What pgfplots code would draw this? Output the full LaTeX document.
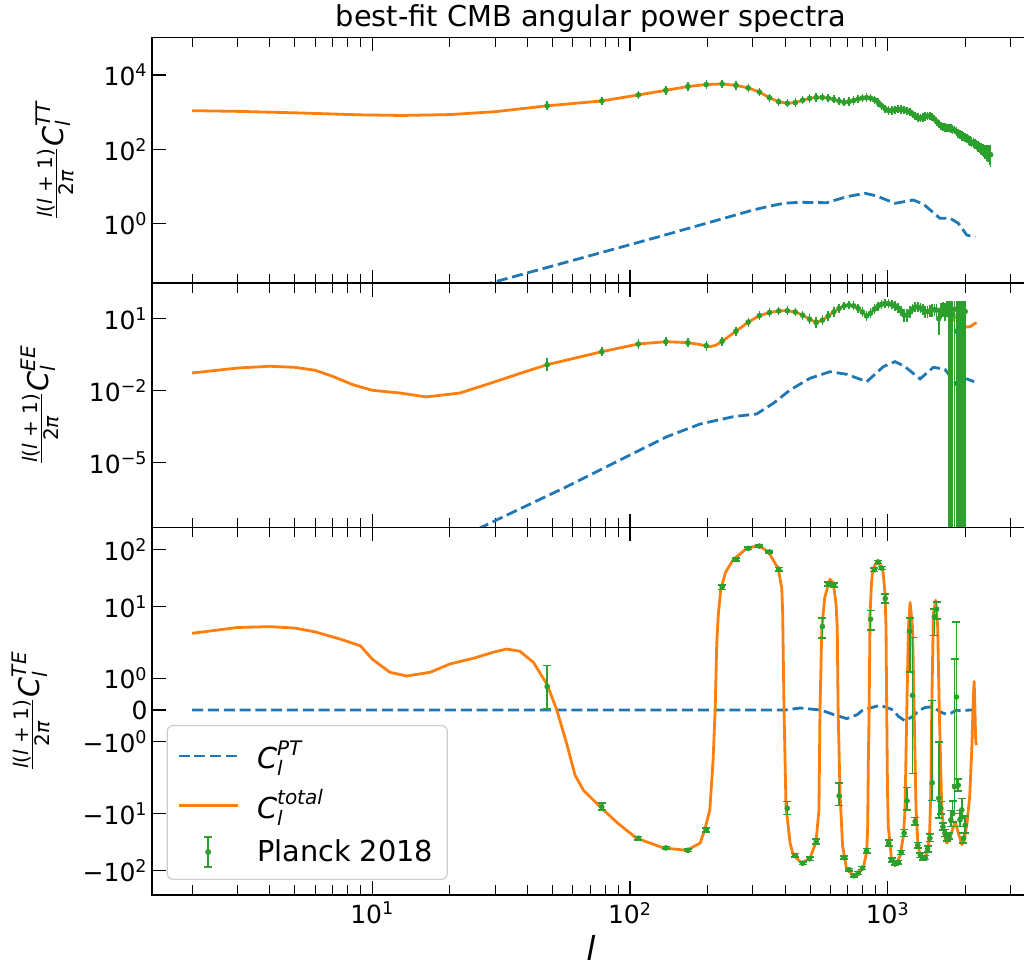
\documentclass[border=0pt]{standalone}
\usepackage{fontspec}
\setmainfont{DejaVu Sans}
\usepackage{amsmath}
\usepackage{pgfplots}
\usepackage{pgfplotstable}
\pgfplotsset{compat=1.18}
\definecolor{tabblue}{HTML}{1F77B4}
\definecolor{taborange}{HTML}{FF7F0E}
\definecolor{tabgreen}{HTML}{2CA02C}
\newcommand{\tp}[1]{10\textsuperscript{#1}}
\newcommand{\ylab}[1]{$\frac{\text{\itshape l\upshape(\itshape l \upshape+ 1)}}{\text{2\itshape π}}\text{\itshape C}_{\text{\itshape l}}^{\text{\itshape #1}}$}
\makeatletter
\def\symlogtrafo#1{\begingroup\pgfkeys{/pgf/fpu=true,/pgf/fpu/output format=fixed}\pgfmathparse{(((#1)>0)-((#1)<0))*(0.5555556*min(abs(#1),2)+0.4342945*ln(max(abs(#1),2)/2))}\pgfmath@smuggleone\pgfmathresult\endgroup}
\makeatother
\pgfplotsset{
  lineleg/.style={legend image code/.code={\draw[##1] (0pt,0pt) -- (29.5pt,0pt);}},
  errleg/.style={legend image code/.code={\draw[tabgreen, line width=0.75pt] (14.75pt,-7.5pt) -- (14.75pt,7.5pt) (12.9pt,-7.5pt) -- (16.6pt,-7.5pt) (12.9pt,7.5pt) -- (16.6pt,7.5pt); \fill[tabgreen] (14.75pt,0pt) circle (1.2pt);}},
}
\tikzset{
  blueline/.style={color=tabblue, line width=1.4pt, dash pattern=on 5.5pt off 2.4pt},
  orangeline/.style={color=taborange, line width=1.4pt, line join=round},
}

% TT binned data (also the model curve for l >= 47.7)
\pgfplotstableread{
l D e
47.7 1480 30
77.7 2000 35
107.7 2900 45
137.7 3860 55
167.7 4880 60
197.7 5520 65
227.7 5730 65
257.7 5250 60
287.7 4470 50
317.7 3480 40
347.7 2440 30
377.7 1900 22
407.7 1735 20
437.7 1800 20
467.7 2100 22
497.7 2350 24
527.7 2490 25
557.7 2500 25
587.7 2380 24
617.7 2210 22
647.7 1980 20
677.7 1840 18
707.7 1920 18
737.7 2050 20
767.7 2250 22
797.7 2400 24
827.7 2455 24
857.7 2380 24
887.7 2160 22
917.7 1820 18
947.7 1480 15
977.7 1220 13
1007.7 1100 12
1037.7 1110 12
1067.7 1160 12
1097.7 1195 12
1127.7 1190 12
1157.7 1150 12
1187.7 1080 12
1217.7 1012 11
1247.7 900 10
1277.7 790 10
1307.7 715 9
1337.7 686 9
1367.7 720 9
1397.7 765 10
1427.7 790 10
1457.7 790 10
1487.7 740 10
1517.7 650 9
1547.7 560 9
1577.7 480 8
1607.7 425 8
1637.7 395 8
1667.7 385 8
1697.7 378 8
1727.7 372 8
1757.7 362 8
1787.7 348 8
1817.7 330 8
1847.7 300 8
1877.7 270 8
1907.7 245 8
1937.7 228 8
1967.7 219 8
1997.7 210 8
2027.7 195 8
2057.7 180 8
2087.7 166 8
2117.7 155 8
2147.7 146 8
2177.7 137 8
2207.7 128 8
2237.7 119 9
2267.7 111 10
2297.7 104 11
2327.7 98 12
2357.7 92 14
2387.7 87 16
2417.7 83 19
2447.7 79 22
2477.7 75 26
2507.7 72 30
}\tttab

\pgfplotstableread{
l v em ep
47.7 0.121 0.025 0.03
77.7 0.42 0.03 0.03
107.7 0.88 0.05 0.05
137.7 1.1 0.06 0.06
167.7 1.0 0.06 0.06
197.7 0.75 0.07 0.07
227.7 1.15 0.08 0.08
257.7 3.0 0.15 0.15
287.7 7.2 0.3 0.3
317.7 13.3 0.5 0.5
347.7 18 0.6 0.6
377.7 21 0.7 0.7
407.7 21.5 0.8 0.8
437.7 19 0.8 0.8
467.7 14 0.8 0.8
497.7 9.5 0.8 0.8
527.7 6.9 0.8 0.8
557.7 8.7 0.9 0.9
587.7 13 1 1
617.7 19 1 1
647.7 27 1.2 1.2
677.7 34 1.3 1.3
707.7 37 1.4 1.4
737.7 34 1.5 1.5
767.7 27 1.5 1.5
797.7 19 1.5 1.5
827.7 13 1.5 1.5
857.7 17 1.6 1.6
887.7 25 1.8 1.8
917.7 33 2 2
947.7 40 2 2
977.7 43 2.2 2.2
1007.7 42 2.3 2.3
1037.7 39 2.5 2.5
1067.7 34 2.5 2.5
1097.7 28 2.6 2.6
1127.7 21 2.7 2.7
1157.7 14 2.8 2.8
1187.7 14 2.9 2.9
1217.7 19 3 3
1247.7 25 3 3
1277.7 30 3.2 3.2
1307.7 31 3.5 3.5
1337.7 28 3.5 3.5
1367.7 24 3.8 3.8
1397.7 20 4 4
1427.7 19.5 4 4
1457.7 21 4.5 4.5
1487.7 23 5 5
1517.7 23.5 5 5
1547.7 23 5.5 5.5
1577.7 10 7 8
1607.7 22 6 8
1637.7 25 7 9
1667.7 20 8 10
1697.7 26 9 11
1727.7 20 10 17
1757.7 28 10 10
1787.7 15 8 22
1817.7 25 10 12
1847.7 3 1.5 34
1877.7 22 10 15
1907.7 0.45 0.2 36
1937.7 12 6 25
1967.7 6 3 30
1997.7 20 10 17
}\eetab

% TE binned data: value, lower and upper end of the error bar
\pgfplotstableread{
l v lo hi
47.7 0.74 0.04 1.40
77.7 -7.6 -8.7 -6.6
107.7 -27 -29 -25
137.7 -40 -42 -38
167.7 -44 -46 -42
197.7 -19.3 -21 -17.8
227.7 22 20 24
257.7 66 62 70
287.7 104 99 109
317.7 114 109 119
347.7 90 86 94
377.7 45 42 48
407.7 -8.1 -10.3 -6.2
437.7 -54 -58 -50
467.7 -74 -78 -70
497.7 -62 -66 -58
527.7 -31 -34 -28
557.7 4.45 2.8 6.3
587.7 25 23 27
617.7 24 22 26
647.7 -4.9 -7.25 -2.9
677.7 -59 -63 -55
707.7 -96 -101 -91
737.7 -122 -128 -116
767.7 -110 -116 -104
797.7 -90 -95 -85
827.7 -45 -49 -41
857.7 6.0 3.9 8.5
887.7 44 41 47
917.7 60 56 64
947.7 47 44 50
977.7 13.8 11.5 16.6
1007.7 -33 -37 -29
1037.7 -65 -70 -60
1067.7 -75 -80 -70
1097.7 -71 -76 -66
1127.7 -48 -52 -44
1157.7 -22 -25 -19
1187.7 -6.0 -8.65 -3.5
1217.7 3.7 1.2 6.3
1247.7 0.46 -2.0 2.9
1277.7 -13.8 -16 -11.8
1307.7 -36 -40 -32
1337.7 -54 -59 -49
1367.7 -60 -65 -55
1397.7 -59 -64 -54
1427.7 -42 -47 -37
1457.7 -27 -31 -23
1487.7 -2.9 -5.96 0.3
1517.7 6.6 3.1 9.1
1547.7 9.0 6 12
1577.7 -5.4 -12 -1.0
1607.7 -8.1 -10.1 -6.1
1637.7 -17 -19.5 -14.5
1667.7 -22 -25 -19
1697.7 -27 -30 -24
1727.7 -25 -28 -22
1757.7 -12.9 -16.9 -8.9
1787.7 -10 -14 -6
1817.7 -3.4 -10 1.6
1847.7 0.41 -3.1 5.4
1877.7 -3.2 -4.0 -2.5
1907.7 -12.9 -16.9 -8.9
1937.7 -8.65 -12 -5.5
1967.7 -27 -33 -22
1997.7 -16 -22 -11
}\tetab

\begin{document}
\begin{tikzpicture}
\useasboundingbox (0,0) rectangle (512pt,485.5pt);

% ---------------- TT ----------------
\begin{axis}[
  scale only axis, width=439pt, height=122.75pt,
  xmode=log, ymode=log, xmin=1.397, xmax=3565, ymin=0.0254, ymax=1.0e5,
  xtick={10,100,1000},
  minor xtick={2,3,4,5,6,7,8,9,20,30,40,50,60,70,80,90,200,300,400,500,600,700,800,900,2000,3000},
  tick align=inside, xtick pos=both, ytick pos=left,
  major tick length=6.8pt, minor tick length=4.8pt,
  major tick style={line width=0.65pt, black},
  minor tick style={line width=0.5pt, black},
  axis line style={line width=0.75pt},
  tick label style={font=\fontsize{12.5}{15}\selectfont},
  yticklabel style={inner xsep=2pt},
  yminorticks=false,
  ytick={1,100,10000}, yticklabels={\tp{0},\tp{2},\tp{4}},
  xticklabels={,,},
  ylabel={\ylab{TT}},
  ylabel style={at={(axis description cs:-0.1105,0.5)}, rotate=0, anchor=center, font=\fontsize{14.3}{17}\selectfont},
  title={best-fit CMB angular power spectra},
  every axis title/.style={at={(axis description cs:0.5,1)}, anchor=base, yshift=5.5pt, font=\fontsize{14.4}{17}\selectfont},
  at={(76pt,343.9pt)}, anchor=south west,
]
\addplot[blueline] table {
l v
2 0.00016
30 0.0278
127 0.434
300 2.34
340 2.88
394 3.56
457 3.79
580 3.69
693 5.35
817 6.6
906 5.6
1067 3.56
1256 4.36
1374 3.4
1594 1.41
1745 1.41
1880 1.03
2026 0.5
2185 0.434
};
\addplot[orangeline] table {
l D
2 1097
3 1050
5 960
9 845
13 815
20 860
30 1030
47.7 1480
};
\addplot[orangeline] table[x=l,y=D] {\tttab};
\addplot[color=tabgreen, only marks, mark=*, mark size=1.2pt, mark options={fill=tabgreen},
  error bars/.cd, y dir=both, y explicit,
  error bar style={line width=0.75pt}, error mark options={line width=0.75pt, mark size=2pt}]
  table[x=l,y=D,y error=e] {\tttab};
\end{axis}

% ---------------- EE ----------------
\begin{axis}[
  scale only axis, width=439pt, height=122.05pt,
  xmode=log, ymode=log, xmin=1.397, xmax=3565, ymin=2.03e-8, ymax=301,
  xtick={10,100,1000},
  minor xtick={2,3,4,5,6,7,8,9,20,30,40,50,60,70,80,90,200,300,400,500,600,700,800,900,2000,3000},
  tick align=inside, xtick pos=both, ytick pos=left,
  major tick length=6.8pt, minor tick length=4.8pt,
  major tick style={line width=0.65pt, black},
  minor tick style={line width=0.5pt, black},
  axis line style={line width=0.75pt},
  tick label style={font=\fontsize{12.5}{15}\selectfont},
  yticklabel style={inner xsep=2pt},
  yminorticks=false,
  ytick={1e-5,1e-2,10}, yticklabels={\tp{−5},\tp{−2},\tp{1}},
  xticklabels={,,},
  ylabel={\ylab{EE}},
  ylabel style={at={(axis description cs:-0.1276,0.5)}, rotate=0, anchor=center, font=\fontsize{14.3}{17}\selectfont},
  at={(76pt,221.85pt)}, anchor=south west,
]
\addplot[blueline] table {
l v
20 4.7e-9
31.3 4.8e-8
56.8 1e-6
103 2.45e-5
139 1.21e-4
187 4.07e-4
252 8.3e-4
310 1.07e-3
360 2.99e-3
418 0.0107
500 0.0331
597 0.0617
693 0.0482
829 0.0237
961 0.1
1067 0.162
1167 0.1
1335 0.0309
1503 0.0944
1667 0.0776
1852 0.0174
1995 0.0331
2163 0.0237
};
\addplot[orangeline] table {
l v
2 0.0546
3 0.088
4 0.104
5 0.094
6 0.071
7 0.04
8.4 0.0178
10 0.0104
12.8 0.008
16.2 0.0055
21.9 0.008
29.5 0.0224
39.7 0.0645
47.7 0.121
77.7 0.42
107.7 0.88
137.7 1.1
167.7 1.0
185 0.85
204 0.68
215 0.78
227.7 1.15
257.7 3.0
287.7 7.2
317.7 13.3
347.7 18
377.7 21
407.7 21.5
437.7 19
467.7 14
497.7 9.5
527.7 6.9
557.7 8.7
587.7 13
617.7 19
647.7 27
677.7 34
707.7 37
737.7 34
767.7 27
797.7 19
827.7 13
857.7 17
887.7 25
917.7 33
947.7 40
977.7 43.6
1007.7 42
1037.7 39
1067.7 34
1097.7 28
1127.7 21
1157.7 14
1187.7 14
1217.7 19
1247.7 25
1277.7 30
1307.7 31
1337.7 28
1367.7 24
1397.7 20
1427.7 19.5
1457.7 21
1487.7 23
1517.7 23.5
1547.7 23
1577.7 21
1607.7 19
1637.7 18
1667.7 17
1697.7 16
1727.7 12
1757.7 8
1787.7 8.5
1817.7 11
1847.7 12
1877.7 12
1907.7 9
1937.7 6
1967.7 4.8
1997.7 4.6
2050 4.5
2100 4.8
2150 5.8
2213 6.8
};
\addplot[color=tabgreen, line width=0.75pt, unbounded coords=jump] table {
l v
1727.7 1e-12
1727.7 20
nan 1
1757.7 1e-12
1757.7 28
nan 1
1787.7 1e-12
1787.7 15
nan 1
1817.7 1e-12
1817.7 25
nan 1
1847.7 1e-12
1847.7 3
nan 1
1877.7 1e-12
1877.7 22
nan 1
1907.7 1e-12
1907.7 0.45
nan 1
1937.7 1e-12
1937.7 12
nan 1
1967.7 1e-12
1967.7 6
nan 1
1997.7 1e-12
1997.7 20
};
\addplot[color=tabgreen, only marks, mark=*, mark size=1.2pt, mark options={fill=tabgreen},
  error bars/.cd, y dir=both, y explicit,
  error bar style={line width=0.75pt}, error mark options={line width=0.75pt, mark size=2pt}]
  table[x=l,y=v,y error plus=ep,y error minus=em] {\eetab};
\end{axis}

% ---------------- TE ----------------
\begin{axis}[
  scale only axis, width=439pt, height=183.85pt,
  xmode=log, xmin=1.397, xmax=3565,
  y coord trafo/.code={\symlogtrafo{#1}},
  ymin=-266, ymax=243,
  xtick={10,100,1000},
  minor xtick={2,3,4,5,6,7,8,9,20,30,40,50,60,70,80,90,200,300,400,500,600,700,800,900,2000,3000},
  tick align=inside, xtick pos=both, ytick pos=left,
  major tick length=6.8pt, minor tick length=4.8pt,
  major tick style={line width=0.65pt, black},
  minor tick style={line width=0.5pt, black},
  axis line style={line width=0.75pt},
  tick label style={font=\fontsize{12.5}{15}\selectfont},
  yticklabel style={inner xsep=2pt},
  yminorticks=false,
  ytick={-100,-10,-1,0,1,10,100},
  yticklabels={−\tp{2},−\tp{1},−\tp{0},0,\tp{0},\tp{1},\tp{2}},
  xticklabels={\tp{1},\tp{2},\tp{3}},
  xlabel={\itshape l},
  xlabel style={at={(axis description cs:0.5,0)}, anchor=north, inner sep=0pt, yshift=-20pt, font=\fontsize{16.5}{19}\selectfont},
  ylabel={\ylab{TE}},
  ylabel style={at={(axis description cs:-0.1378,0.5)}, rotate=0, anchor=center, font=\fontsize{14.3}{17}\selectfont},
  legend cell align=left,
  legend style={at={(0.0167,0.0408)}, anchor=south west, draw=black!20, line width=0.6pt,
    rounded corners=3pt, fill=white, fill opacity=0.8, text opacity=1,
    font=\fontsize{14.4}{17}\selectfont, inner xsep=5pt, inner ysep=5.5pt, row sep=5pt, column sep=7pt},
  at={(76pt,38pt)}, anchor=south west,
]
\addplot[blueline, lineleg] table {
l v
2 0
400 0
457 0.063
550 0
620 -0.15
693 -0.27
760 -0.15
800 0
870 0.08
933 0.15
1000 0.07
1050 0
1100 -0.2
1167 -0.34
1250 -0.2
1330 0
1400 0.08
1459 0.094
1520 0.05
1560 0
1620 -0.08
1694 -0.135
1760 -0.1
1850 0
1900 -0.02
2088 0
2160 0
};
\addlegendentry{$\text{\itshape C}_{\text{\itshape l}}^{\text{\itshape PT}}$}
\addplot[orangeline, lineleg] table {
l v
2 3.4
3 4.3
4 4.45
5 4.2
6 3.6
7.5 2.7
9 2.05
10 1.6
11.7 1.19
13.6 1.07
16.8 1.19
20 1.45
24.7 1.63
29.5 1.82
33.2 1.92
37.4 1.85
42.2 1.5
47.7 0.8
52 0.0
56.8 -1.06
61.2 -2.13
65.9 -3.9
76.5 -7.6
90 -15
106 -27
135 -40
166 -44
187 -33
195 -19.3
204 -8.65
210 -1.6
214 0
217 2.2
220 7
225 20
235 40
252 67
284 104
315 117
344 91
376 46
388 21
391 8.5
396 0
403 -7.6
418 -33
430 -53
464 -74
500 -60
527 -31
541 -8.65
546 0
555 4.3
570 14.6
597 30
615 26
630 11.2
637 4.3
642 0
653 -4.45
668 -36
693 -96
746 -126
804 -90
829 -46
836 -17
841 -1.6
847 0
854 7.4
865 25.8
875 44.8
912 63
957 44.8
977 16.4
985 4
991 0
998 -4
1005 -17
1035 -64
1067 -82
1116 -56
1150 -25
1167 -8.65
1186 0
1203 4.3
1221 11.8
1248 4.3
1266 0
1288 -8.65
1310 -35
1335 -53
1374 -64
1429 -46
1455 -20
1469 -4.45
1482 0
1503 7.4
1535 12.9
1563 4.3
1585 0
1621 -8.65
1660 -25
1694 -33
1740 -28
1790 -18
1830 -14
1880 -22
1940 -35
1980 -30
2030 -15
2080 -5
2120 -1.2
2150 0.5
2165 0.9
2180 0
2195 -1.0
2210 -1.1
};
\addlegendentry{$\text{\itshape C}_{\text{\itshape l}}^{\text{\itshape total}}$}
% error bars of the TE points: each bar drawn from lo to hi of one row of \tetab
\addplot[color=tabgreen, line width=0.75pt, mark=-, mark size=2pt, mark options={solid, line width=0.75pt},
  unbounded coords=jump, forget plot] table {
l y
47.7 0.04
47.7 1.40
nan 0
77.7 -8.7
77.7 -6.6
nan 0
107.7 -29
107.7 -25
nan 0
137.7 -42
137.7 -38
nan 0
167.7 -46
167.7 -42
nan 0
197.7 -21
197.7 -17.8
nan 0
227.7 20
227.7 24
nan 0
257.7 62
257.7 70
nan 0
287.7 99
287.7 109
nan 0
317.7 109
317.7 119
nan 0
347.7 86
347.7 94
nan 0
377.7 42
377.7 48
nan 0
407.7 -10.3
407.7 -6.2
nan 0
437.7 -58
437.7 -50
nan 0
467.7 -78
467.7 -70
nan 0
497.7 -66
497.7 -58
nan 0
527.7 -34
527.7 -28
nan 0
557.7 2.8
557.7 6.3
nan 0
587.7 23
587.7 27
nan 0
617.7 22
617.7 26
nan 0
647.7 -7.25
647.7 -2.9
nan 0
677.7 -63
677.7 -55
nan 0
707.7 -101
707.7 -91
nan 0
737.7 -128
737.7 -116
nan 0
767.7 -116
767.7 -104
nan 0
797.7 -95
797.7 -85
nan 0
827.7 -49
827.7 -41
nan 0
857.7 3.9
857.7 8.5
nan 0
887.7 41
887.7 47
nan 0
917.7 56
917.7 64
nan 0
947.7 44
947.7 50
nan 0
977.7 11.5
977.7 16.6
nan 0
1007.7 -37
1007.7 -29
nan 0
1037.7 -70
1037.7 -60
nan 0
1067.7 -80
1067.7 -70
nan 0
1097.7 -76
1097.7 -66
nan 0
1127.7 -52
1127.7 -44
nan 0
1157.7 -25
1157.7 -19
nan 0
1187.7 -8.65
1187.7 -3.5
nan 0
1217.7 1.2
1217.7 6.3
nan 0
1247.7 -2.0
1247.7 2.9
nan 0
1277.7 -16
1277.7 -11.8
nan 0
1307.7 -40
1307.7 -32
nan 0
1337.7 -59
1337.7 -49
nan 0
1367.7 -65
1367.7 -55
nan 0
1397.7 -64
1397.7 -54
nan 0
1427.7 -47
1427.7 -37
nan 0
1457.7 -31
1457.7 -23
nan 0
1487.7 -5.96
1487.7 0.3
nan 0
1517.7 3.1
1517.7 9.1
nan 0
1547.7 6
1547.7 12
nan 0
1577.7 -12
1577.7 -1.0
nan 0
1607.7 -10.1
1607.7 -6.1
nan 0
1637.7 -19.5
1637.7 -14.5
nan 0
1667.7 -25
1667.7 -19
nan 0
1697.7 -30
1697.7 -24
nan 0
1727.7 -28
1727.7 -22
nan 0
1757.7 -16.9
1757.7 -8.9
nan 0
1787.7 -14
1787.7 -6
nan 0
1817.7 -10
1817.7 1.6
nan 0
1847.7 -3.1
1847.7 5.4
nan 0
1877.7 -4.0
1877.7 -2.5
nan 0
1907.7 -16.9
1907.7 -8.9
nan 0
1937.7 -12
1937.7 -5.5
nan 0
1967.7 -33
1967.7 -22
nan 0
1997.7 -22
1997.7 -11
};
\addplot[color=tabgreen, only marks, mark=*, mark size=1.2pt, mark options={fill=tabgreen}, errleg]
  table[x=l,y=v] {\tetab};
\addlegendentry{Planck 2018}
\end{axis}
\end{tikzpicture}
\end{document}
